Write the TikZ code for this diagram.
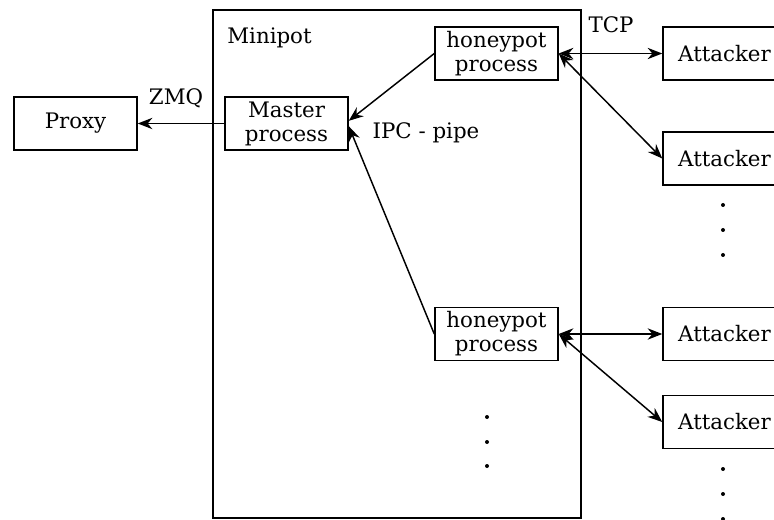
\documentclass[tikz,border=0pt]{standalone}
\usepackage{fontspec}
\setmainfont{DejaVu Serif}
\usetikzlibrary{arrows.meta, positioning}

\begin{document}
\begin{tikzpicture}[x=0.75pt, y=-0.75pt, font=\fontsize{16}{18}\selectfont,
  box/.style={draw, line width=1.1pt, minimum width=92.25pt, minimum height=39.75pt,
              inner sep=0pt, align=center},
  link/.style={line width=1.1pt, -{Stealth[length=11pt, width=8.5pt]}},
  duplex/.style={line width=1.1pt, {Stealth[length=11pt, width=8.5pt]}-{Stealth[length=11pt, width=8.5pt]}},
  dot/.style={circle, fill, inner sep=0pt, minimum size=3pt}]
  \useasboundingbox (0,0) rectangle (774,520);

  % container
  \node[draw, line width=1.1pt, minimum width=276pt, minimum height=381pt] (minipot) at (397,264) {};
  \node (minipotlabel) at (269.5,38) {Minipot};

  % processes
  \node[box] (proxy)  at (75.5,123.5)  {Proxy};
  \node[box] (master) at (286.5,123.5) {Master\\process};
  \node[box] (hpA) at (496.5,53.5)  {honeypot\\process};
  \node[box] (hpB) at (496.5,334)   {honeypot\\process};

  % attackers
  \node[box] (attA) at (724.5,53.5) {Attacker};
  \node[box] (attB) at (724.5,158.5) {Attacker};
  \node[box] (attC) at (724.5,334)  {Attacker};
  \node[box] (attD) at (724.5,422)  {Attacker};

  \foreach \y [count=\i] in {205,230,255}
    \node[dot] (dotB\i) at (723,\y) {};
  \foreach \y [count=\i] in {469,494,519}
    \node[dot] (dotD\i) at (723,\y) {};
  \foreach \y [count=\i] in {417,442,466}
    \node[dot] (dotP\i) at (487,\y) {};

  % links
  \draw[link] (master.west) -- (proxy.east);
  \node (zmq) at (176,98) {ZMQ};
  \draw[link] (hpA.west) -- ([yshift=2pt]master.east);
  \draw[link] (hpB.west) -- ([yshift=-2pt]master.east);
  \node (ipc) at (426,133) {IPC - pipe};
  \draw[duplex] (hpA.east) -- (attA.west);
  \draw[duplex] (hpA.east) -- (attB.west);
  \draw[duplex] (hpB.east) -- (attC.west);
  \draw[duplex] (hpB.east) -- (attD.west);
  \node (tcp) at (611,25) {TCP};
\end{tikzpicture}
\end{document}
